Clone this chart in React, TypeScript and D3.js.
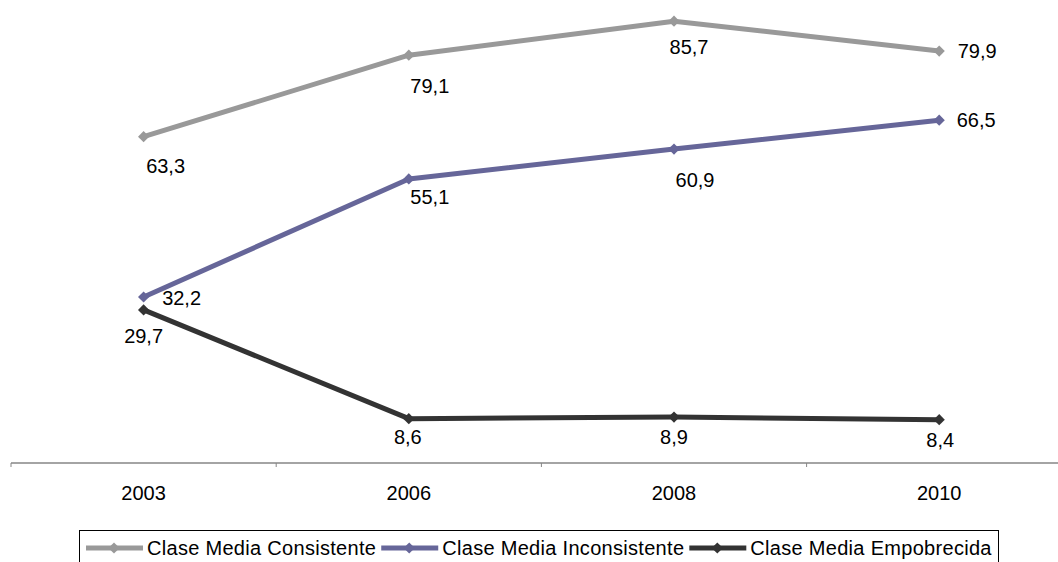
import { useEffect, useRef } from 'react';
import * as d3 from 'd3';

const years = ['2003', '2006', '2008', '2010'];
const consistente = [63.3, 79.1, 85.7, 79.9];
const inconsistente = [32.2, 55.1, 60.9, 66.5];
const empobrecida = [29.7, 8.6, 8.9, 8.4];
const seriesNames = ['Clase Media Consistente', 'Clase Media Inconsistente', 'Clase Media Empobrecida'];

// label placement per point: [dx, dy] from the marker to the label centre
const labelOffsets = [
  [[22, 29], [21, 31], [15, 26], [38, 0]],
  [[38, 1], [21, 18], [21, 31], [37, 0]],
  [[0, 26], [-1, 18], [0, 20], [1, 20]],
];

const W = 1058;
const H = 562;
const FONT = 'Arial, "Liberation Sans", sans-serif';

export default function App() {
  const svgRef = useRef<SVGSVGElement>(null);

  useEffect(() => {
    if (!svgRef.current) return;
    const svg = d3.select(svgRef.current);
    svg.selectAll('*').remove();

    const series = [
      { name: seriesNames[0], values: consistente, color: '#999999' },
      { name: seriesNames[1], values: inconsistente, color: '#666699' },
      { name: seriesNames[2], values: empobrecida, color: '#333333' },
    ];

    const x = d3.scaleBand().domain(years).range([11, 1071.8]);
    const cx = (d: string) => (x(d) as number) + x.bandwidth() / 2;
    const y = d3.scaleLinear().domain([0, 90]).range([463, -1]);

    // Axis
    const axis = svg.append('g').attr('transform', `translate(0,${y(0)})`);
    axis.append('line')
      .attr('x1', 11).attr('x2', W)
      .attr('stroke', '#868686').attr('stroke-width', 1.5);
    years.forEach(yr => {
      axis.append('line')
        .attr('x1', x(yr) as number).attr('x2', x(yr) as number)
        .attr('y1', 0).attr('y2', 4)
        .attr('stroke', '#868686').attr('stroke-width', 1);
      axis.append('text')
        .attr('x', cx(yr)).attr('y', 37)
        .attr('text-anchor', 'middle')
        .style('font-family', FONT).style('font-size', '20px')
        .attr('fill', '#000')
        .text(yr);
    });

    const diamond = d3.symbol().type(d3.symbolDiamond2).size(80);

    // Lines
    series.forEach((s, si) => {
      const line = d3.line<number>()
        .x((_, i) => cx(years[i]))
        .y(d => y(d));
      svg.append('path')
        .datum(s.values)
        .attr('fill', 'none')
        .attr('stroke', s.color)
        .attr('stroke-width', 5)
        .attr('stroke-linejoin', 'round')
        .attr('d', line);

      s.values.forEach((v, i) => {
        svg.append('path')
          .attr('d', diamond)
          .attr('transform', `translate(${cx(years[i])},${y(v)})`)
          .attr('fill', s.color);
      });

      s.values.forEach((v, i) => {
        const [dx, dy] = labelOffsets[si][i];
        svg.append('text')
          .attr('x', cx(years[i]) + dx)
          .attr('y', y(v) + dy + 7)
          .attr('text-anchor', 'middle')
          .style('font-family', FONT).style('font-size', '20px')
          .attr('fill', '#000')
          .text(String(v).replace('.', ','));
      });
    });

    // Legend
    const legend = svg.append('g');
    legend.append('rect')
      .attr('x', 79.5).attr('y', 530.5)
      .attr('width', 919).attr('height', 40)
      .attr('fill', '#fff').attr('stroke', '#000').attr('stroke-width', 1);

    let lx = 86;
    const ly = 548;
    series.forEach(s => {
      legend.append('line')
        .attr('x1', lx).attr('x2', lx + 57)
        .attr('y1', ly).attr('y2', ly)
        .attr('stroke', s.color).attr('stroke-width', 5);
      legend.append('path')
        .attr('d', diamond)
        .attr('transform', `translate(${lx + 28},${ly})`)
        .attr('fill', s.color);
      const t = legend.append('text')
        .attr('x', lx + 61).attr('y', ly + 7)
        .style('font-family', FONT).style('font-size', '20px').style('letter-spacing', '0.3px')
        .attr('fill', '#000')
        .text(s.name);
      const tw = (t.node() as SVGTextElement).getComputedTextLength();
      lx = lx + 61 + tw + 5;
    });
  }, []);

  return (
    <div>
      <style>{`body{margin:0;}`}</style>
      <svg ref={svgRef} width={W} height={H} style={{ display: 'block', background: '#fff' }} />
    </div>
  );
}
